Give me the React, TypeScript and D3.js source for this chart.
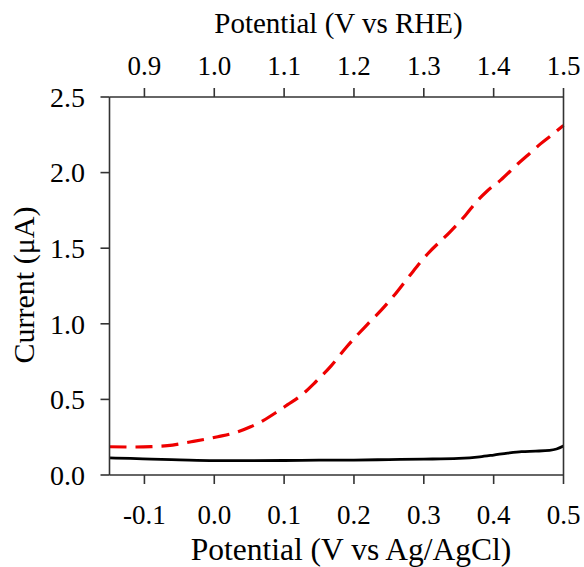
import React from "react";
import * as d3 from "d3";

const blackX = [-0.15, -0.12, -0.09, -0.05, 0.0, 0.05, 0.1, 0.15, 0.2, 0.25, 0.3, 0.35, 0.38, 0.4, 0.42, 0.44, 0.46, 0.48, 0.49, 0.5];
const blackY = [0.113, 0.11, 0.105, 0.1, 0.095, 0.095, 0.096, 0.098, 0.099, 0.102, 0.105, 0.11, 0.12, 0.132, 0.145, 0.155, 0.158, 0.163, 0.172, 0.192];

const redX = [-0.15, -0.12, -0.09, -0.067, -0.033, 0.005, 0.03, 0.052, 0.07, 0.09, 0.105, 0.124, 0.145, 0.167, 0.19, 0.219, 0.24, 0.257, 0.28, 0.305, 0.338, 0.36, 0.376, 0.39, 0.41, 0.434, 0.45, 0.467, 0.485, 0.5];
const redY = [0.187, 0.185, 0.188, 0.194, 0.22, 0.253, 0.28, 0.319, 0.36, 0.418, 0.465, 0.525, 0.615, 0.72, 0.85, 0.995, 1.095, 1.185, 1.32, 1.46, 1.61, 1.72, 1.81, 1.875, 1.95, 2.055, 2.12, 2.19, 2.255, 2.312];

const bottomTicks = [-0.1, 0.0, 0.1, 0.2, 0.3, 0.4, 0.5];
const topTicks = [0.9, 1.0, 1.1, 1.2, 1.3, 1.4, 1.5];
const yTicks = [0.0, 0.5, 1.0, 1.5, 2.0, 2.5];

const W = 584;
const H = 567;
const L = 109.5;
const R = 563.5;
const T = 97;
const B = 475;
const FONT = "'Liberation Serif', 'Times New Roman', serif";
const AXIS = "#333";

export default function App() {
  const x = d3.scaleLinear().domain([-0.15, 0.5]).range([L, R]);
  const xTop = d3.scaleLinear().domain([0.85, 1.5]).range([L, R]);
  const y = d3.scaleLinear().domain([0, 2.5]).range([B, T]);
  const line = d3
    .line<[number, number]>()
    .x((d) => x(d[0]))
    .y((d) => y(d[1]))
    .curve(d3.curveMonotoneX);
  const black = blackX.map((v, i) => [v, blackY[i]] as [number, number]);
  const red = redX.map((v, i) => [v, redY[i]] as [number, number]);
  const tickLen = 9;

  return (
    <svg
      width={W}
      height={H}
      style={{ position: "absolute", left: 0, top: 0, background: "#fff" }}
      fontFamily={FONT}
    >
      <rect x={0} y={0} width={W} height={H} fill="#fff" />
      <path d={line(black) || ""} fill="none" stroke="#000" strokeWidth={2.8} />
      <path
        d={line(red) || ""}
        fill="none"
        stroke="#ee0000"
        strokeWidth={3.2}
        strokeDasharray="17 9"
      />
      {/* frame */}
      <line x1={L} x2={L} y1={T} y2={B} stroke={AXIS} strokeWidth={1.6} />
      <line x1={R} x2={R} y1={T} y2={B} stroke={AXIS} strokeWidth={1.6} />
      <line x1={L} x2={R} y1={T} y2={T} stroke={AXIS} strokeWidth={1.6} />
      <line x1={L} x2={R} y1={B} y2={B} stroke={AXIS} strokeWidth={1.6} />
      {/* y ticks */}
      {yTicks.map((t) => (
        <g key={"y" + t}>
          <line x1={L - tickLen} x2={L} y1={y(t)} y2={y(t)} stroke={AXIS} strokeWidth={1.6} />
          <text x={85} y={y(t)} dy="0.35em" textAnchor="end" fontSize={28}>
            {t.toFixed(1)}
          </text>
        </g>
      ))}
      {/* bottom ticks */}
      {bottomTicks.map((t) => (
        <g key={"b" + t}>
          <line x1={x(t)} x2={x(t)} y1={B} y2={B + tickLen} stroke={AXIS} strokeWidth={1.6} />
          <text x={x(t)} y={524} textAnchor="middle" fontSize={27}>
            {t.toFixed(1)}
          </text>
        </g>
      ))}
      {/* top ticks */}
      {topTicks.map((t) => (
        <g key={"t" + t}>
          <line x1={xTop(t)} x2={xTop(t)} y1={T} y2={T - tickLen} stroke={AXIS} strokeWidth={1.6} />
          <text x={xTop(t)} y={75} textAnchor="middle" fontSize={27}>
            {t.toFixed(1)}
          </text>
        </g>
      ))}
      <text x={338.5} y={33} textAnchor="middle" fontSize={29}>
        Potential (V vs RHE)
      </text>
      <text x={351} y={560} textAnchor="middle" fontSize={31.5}>
        Potential (V vs Ag/AgCl)
      </text>
      <text
        transform={`translate(34, 285) rotate(-90)`}
        textAnchor="middle"
        fontSize={30}
      >
        Current (μA)
      </text>
    </svg>
  );
}
